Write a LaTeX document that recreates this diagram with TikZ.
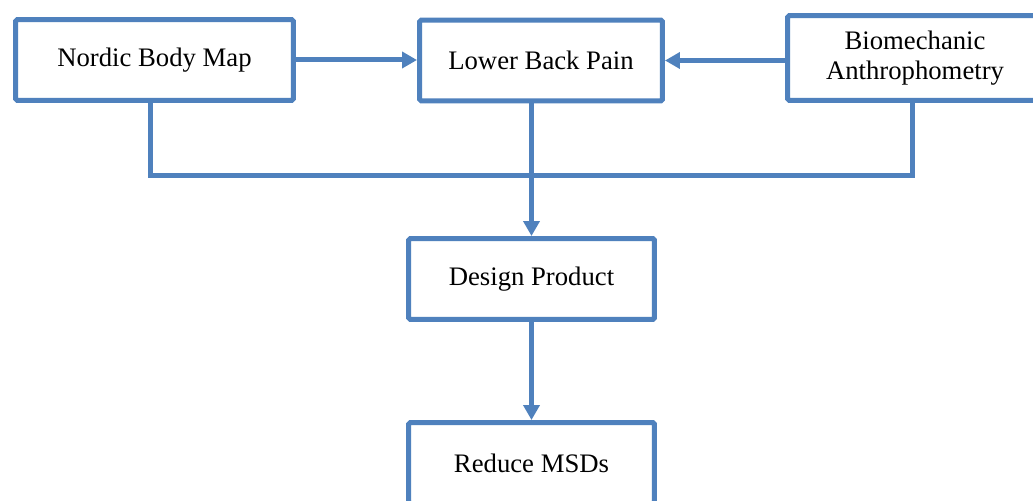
\documentclass[tikz,border=0pt]{standalone}
\usepackage{fontspec}
\setmainfont{Liberation Serif}
\usetikzlibrary{arrows.meta,positioning,shadows}
\definecolor{boxblue}{RGB}{79,129,189}

\begin{document}
\begin{tikzpicture}[x=0.02cm, y=-0.02cm,
  box/.style={draw=boxblue, line width=0.1cm, fill=white, rounded corners=1pt,
    minimum height=1.62cm, align=center, font=\fontsize{15.2}{17}\selectfont,
    drop shadow={opacity=0.25, shadow xshift=0.03cm, shadow yshift=-0.03cm}},
  link/.style={draw=boxblue, line width=0.1cm},
  tip/.style={-{Triangle[length=0.3cm, width=0.32cm]}}]
\useasboundingbox (0,0) rectangle (1033,500);

\node[box, minimum width=5.56cm] (nordic) at (154.5,60) {Nordic Body Map};
\node[box, minimum width=4.86cm] (lower) at (541,60.5) {Lower Back Pain};
\node[box, minimum width=5.1cm, minimum height=1.7cm] (bio) at (915,58) {Biomechanic\\Anthrophometry};
\node[box, minimum width=4.92cm] (design) at (531.5,279) {Design Product};
\node[box, minimum width=4.92cm] (reduce) at (531.5,463) {Reduce MSDs};

\coordinate (joinL) at (150,175);
\coordinate (joinR) at (912,175);
\coordinate (joinM) at (design.north |- joinL);

%\draw[very thin,color=gray] (0,0) grid[step=50] (1033,500);
\draw[link, tip] (nordic.east) -- (nordic.east -| lower.west);
\draw[link, tip] (bio.west |- lower) -- (lower.east);
\draw[link] (nordic.south -| joinL) -- (joinL) -- (joinR) -- (bio.south -| joinR);
\draw[link] (lower.south -| joinM) -- (joinM);
\draw[link, tip] (joinM) -- (design.north);
\draw[link, tip] (design.south) -- (reduce.north);
\end{tikzpicture}
\end{document}
